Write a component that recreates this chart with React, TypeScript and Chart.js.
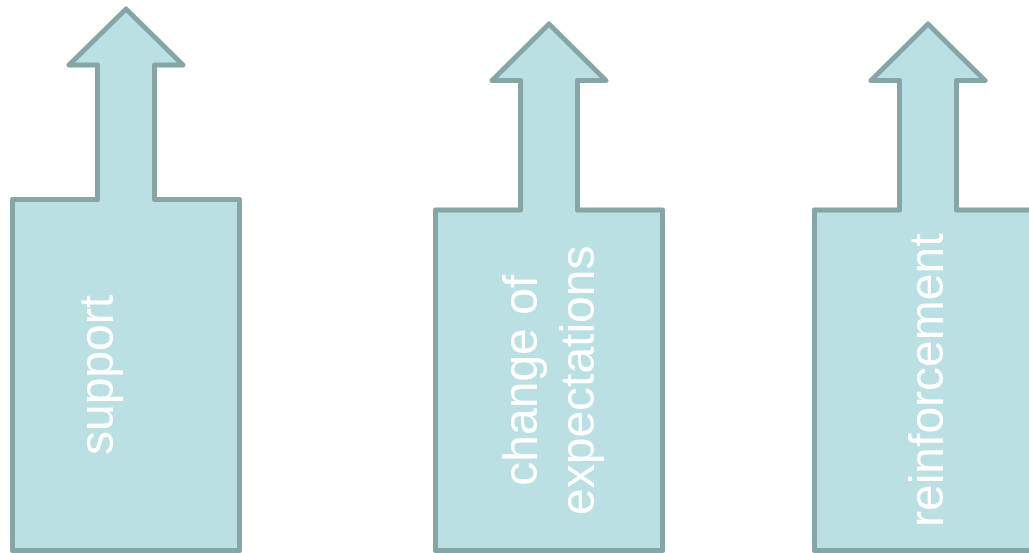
import React, { useEffect, useRef } from "react";
import { Chart, registerables } from "chart.js";

Chart.register(...registerables);

// Diagram data (in chart units: x from left, y = height above the bottom edge)
const categories = ["support", "change of\nexpectations", "reinforcement"];
const boxLeft = [12.5, 435.5, 814.5];
const boxBottom = [2.5, 2.5, 2.5];
const boxTop = [353.5, 343, 343];
const headBase = [488, 472.5, 472.5];
const tipTop = [544, 529, 529];

const BOX_W = 227;
const STEM_W = 57;
const HEAD_W = 114;
const LABEL_SHIFT = [-26, 3, 2];

const FILL = "#bbe0e3";
const STROKE = "#88a5a6";

function arrowPoints(i: number) {
  const cx = boxLeft[i] + BOX_W / 2;
  const l = boxLeft[i];
  const r = boxLeft[i] + BOX_W;
  return [
    { x: l, y: boxBottom[i] },
    { x: l, y: boxTop[i] },
    { x: cx - STEM_W / 2, y: boxTop[i] },
    { x: cx - STEM_W / 2, y: headBase[i] },
    { x: cx - HEAD_W / 2, y: headBase[i] },
    { x: cx, y: tipTop[i] },
    { x: cx + HEAD_W / 2, y: headBase[i] },
    { x: cx + STEM_W / 2, y: headBase[i] },
    { x: cx + STEM_W / 2, y: boxTop[i] },
    { x: r, y: boxTop[i] },
    { x: r, y: boxBottom[i] },
    { x: l, y: boxBottom[i] },
  ];
}

const labelPlugin = {
  id: "arrowLabels",
  afterDatasetsDraw(chart: any) {
    const { ctx, scales } = chart;
    const xs = scales.x;
    const ys = scales.y;
    ctx.save();
    ctx.fillStyle = "#ffffff";
    ctx.font = '48px "Liberation Sans", Arial, sans-serif';
    ctx.textAlign = "center";
    ctx.textBaseline = "middle";
    categories.forEach((label, i) => {
      const px = xs.getPixelForValue(boxLeft[i] + BOX_W / 2 + LABEL_SHIFT[i]);
      const py = ys.getPixelForValue((boxBottom[i] + boxTop[i]) / 2);
      const lines = label.split("\n");
      const lh = 57;
      ctx.save();
      ctx.translate(px, py);
      ctx.rotate(-Math.PI / 2);
      lines.forEach((ln, k) => {
        const off = (k - (lines.length - 1) / 2) * lh;
        ctx.fillText(ln, 0, off);
      });
      ctx.restore();
    });
    ctx.restore();
  },
};

export default function App() {
  const ref = useRef<HTMLCanvasElement | null>(null);

  useEffect(() => {
    document.body.style.margin = "0";
    if (!ref.current) return;
    const chart = new Chart(ref.current, {
      type: "scatter",
      data: {
        datasets: categories.map((c, i) => ({
          label: c,
          data: arrowPoints(i),
          showLine: true,
          fill: "shape",
          backgroundColor: FILL,
          borderColor: STROKE,
          borderWidth: 5,
          borderJoinStyle: "round",
          borderCapStyle: "round",
          pointRadius: 0,
          pointHoverRadius: 0,
          tension: 0,
          clip: false,
        })) as any,
      },
      options: {
        animation: false,
        responsive: false,
        maintainAspectRatio: false,
        layout: { padding: 0 },
        events: [],
        plugins: {
          legend: { display: false },
          tooltip: { enabled: false },
        },
        scales: {
          x: { type: "linear", min: 0, max: 1029, display: false },
          y: { type: "linear", min: 0, max: 553, display: false },
        },
      },
      plugins: [labelPlugin],
    });
    return () => chart.destroy();
  }, []);

  return (
    <div style={{ width: 1029, height: 553, background: "#ffffff" }}>
      <canvas ref={ref} width={1029} height={553} style={{ display: "block" }} />
    </div>
  );
}
